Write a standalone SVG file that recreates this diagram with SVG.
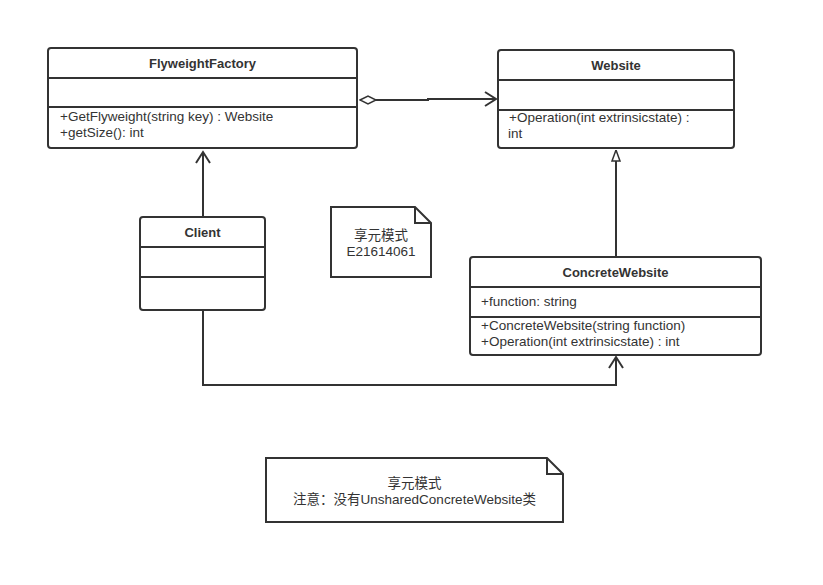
<svg xmlns="http://www.w3.org/2000/svg" width="823" height="585" viewBox="0 0 823 585">
<defs>
<style>
.box{fill:#fff;stroke:#333;stroke-width:2}
.div{stroke:#333;stroke-width:2}
.t{font-family:"Liberation Sans","Noto Sans CJK SC",sans-serif;font-size:13.5px;fill:#333}
.b{font-weight:bold;text-anchor:middle;font-size:13px}
.c{text-anchor:middle}
.ln{fill:none;stroke:#333;stroke-width:2}
</style>
<marker id="open" markerWidth="14" markerHeight="16" refX="12" refY="8" orient="auto" markerUnits="userSpaceOnUse">
<path d="M1,1 L12,8 L1,15" fill="none" stroke="#333" stroke-width="2"/>
</marker>
<marker id="tri" markerWidth="12" markerHeight="16" refX="12" refY="5" orient="auto" markerUnits="userSpaceOnUse">
<path d="M1,1 L12,5 L1,9 Z" fill="#fff" stroke="#333" stroke-width="1.5"/>
</marker>
<marker id="dia" markerWidth="20" markerHeight="12" refX="1" refY="6" orient="auto" markerUnits="userSpaceOnUse">
<path d="M1,6 L9,2 L17,6 L9,10 Z" fill="#fff" stroke="#333" stroke-width="1.5"/>
</marker>
</defs>
<rect width="823" height="585" fill="#fff"/>
<g id="connectors">
<path class="ln" d="M360,100 L428,100 L428,99 L496,99" marker-start="url(#dia)" marker-end="url(#open)"/>
<path class="ln" d="M203,217 L203,152" marker-end="url(#open)"/>
<path class="ln" d="M616,257 L616,150" marker-end="url(#tri)"/>
<path class="ln" d="M203,310 L203,385 L616,385 L616,357" marker-end="url(#open)"/>
</g>
<g id="FlyweightFactory">
<rect class="box" x="48" y="48" width="309" height="100" rx="3"/>
<line class="div" x1="48" y1="78" x2="357" y2="78"/>
<line class="div" x1="48" y1="107" x2="357" y2="107"/>
<text class="t b" x="202.5" y="68">FlyweightFactory</text>
<text class="t" x="60" y="121">+GetFlyweight(string key) : Website</text>
<text class="t" x="60" y="137">+getSize(): int</text>
</g>
<g id="Website">
<rect class="box" x="498" y="50" width="236" height="98" rx="3"/>
<line class="div" x1="498" y1="80" x2="734" y2="80"/>
<line class="div" x1="498" y1="110" x2="734" y2="110"/>
<text class="t b" x="616" y="70">Website</text>
<text class="t" x="509" y="122">+Operation(int extrinsicstate) :</text>
<text class="t" x="508" y="138">int</text>
</g>
<g id="Client">
<rect class="box" x="140" y="217" width="125" height="93" rx="3"/>
<line class="div" x1="140" y1="247" x2="265" y2="247"/>
<line class="div" x1="140" y1="277" x2="265" y2="277"/>
<text class="t b" x="202.5" y="237">Client</text>
</g>
<g id="note1">
<path class="box" d="M331,207 L415,207 L431,223 L431,277 L331,277 Z"/>
<path class="ln" d="M415,207 L415,223 L431,223"/>
<text class="t c" x="381" y="240">享元模式</text>
<text class="t c" x="381" y="256">E21614061</text>
</g>
<g id="ConcreteWebsite">
<rect class="box" x="470" y="257" width="291" height="98" rx="3"/>
<line class="div" x1="470" y1="287" x2="761" y2="287"/>
<line class="div" x1="470" y1="317" x2="761" y2="317"/>
<text class="t b" x="615.5" y="277">ConcreteWebsite</text>
<text class="t" x="481" y="306">+function: string</text>
<text class="t" x="481" y="330">+ConcreteWebsite(string function)</text>
<text class="t" x="481" y="346">+Operation(int extrinsicstate) : int</text>
</g>
<g id="note2">
<path class="box" d="M266,458 L547,458 L563,474 L563,522 L266,522 Z"/>
<path class="ln" d="M547,458 L547,474 L563,474"/>
<text class="t c" x="414.5" y="488">享元模式</text>
<text class="t c" x="414.5" y="504">注意：没有UnsharedConcreteWebsite类</text>
</g>
</svg>
